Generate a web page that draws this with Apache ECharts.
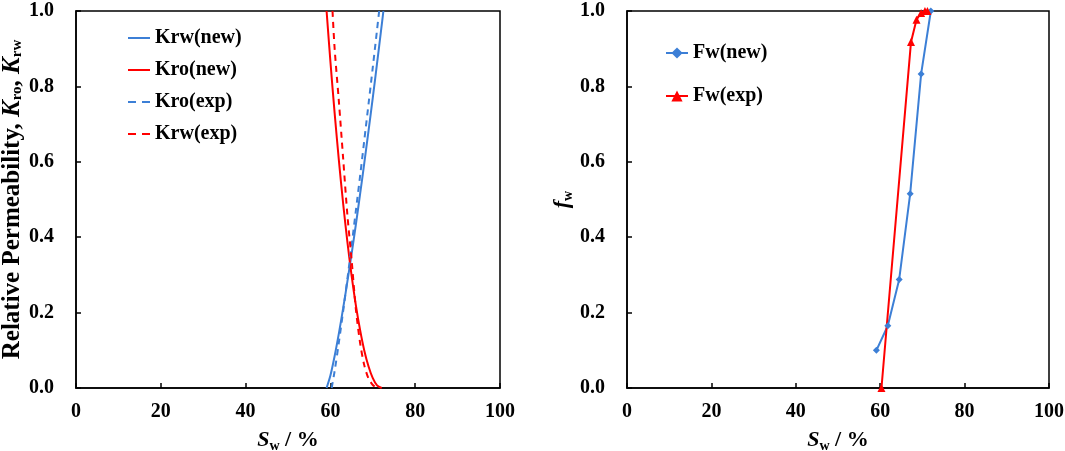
<!DOCTYPE html>
<html>
<head>
<meta charset="utf-8">
<script src="https://cdn.jsdelivr.net/npm/echarts@6/dist/echarts.min.js"></script>
<style>
  html, body { margin: 0; padding: 0; background: #fff; }
  #main { width: 1065px; height: 451px; }
</style>
</head>
<body>
<div id="main"></div>
<script>
// left panel: relative permeability curves (Sw in %, K value)
var swKrwNew = [59.1, 60, 61, 62, 63, 64, 65, 66, 67, 68, 69, 70, 71, 72, 72.5];
var krwNew   = [0, 0.033, 0.085, 0.145, 0.211, 0.282, 0.356, 0.433, 0.514, 0.597, 0.683, 0.770, 0.861, 0.953, 1.0];

var swKroNew = [59.1, 60, 61, 62, 63, 64, 65, 66, 67, 68, 69, 70, 71, 72.1];
var kroNew   = [1.0, 0.866, 0.729, 0.604, 0.490, 0.388, 0.298, 0.220, 0.154, 0.099, 0.057, 0.026, 0.007, 0];

var swKroExp = [60.3, 61, 62, 63, 64, 65, 66, 67, 68, 69, 70, 71, 71.5];
var kroExp   = [0, 0.045, 0.121, 0.203, 0.289, 0.378, 0.470, 0.562, 0.658, 0.754, 0.851, 0.950, 1.0];

var swKrwExp = [60.5, 61, 62, 63, 64, 65, 66, 67, 68, 69, 70, 70.9];
var krwExp   = [1.0, 0.90, 0.76, 0.61, 0.46, 0.34, 0.21, 0.12, 0.06, 0.025, 0.008, 0];

// right panel: fractional flow
var swFwNew = [59.1, 61.8, 64.5, 67.1, 69.7, 72.0];
var fwNew   = [0.10, 0.165, 0.288, 0.515, 0.833, 1.0];

var swFwExp = [60.3, 67.3, 68.6, 69.7, 70.6, 71.2];
var fwExp   = [0, 0.918, 0.977, 0.995, 1.0, 1.0];

var xTicks = [0, 20, 40, 60, 80, 100];
var yTicks = [0, 0.2, 0.4, 0.6, 0.8, 1.0];

var BLUE = '#3c7fd6';
var RED = '#ff0000';
var FONT = '"Liberation Serif", "Times New Roman", serif';

// legend icons (line only, no marker)
var ICON_SOLID = 'path://M0,0H22V2H0Z';
var ICON_DASH = 'path://M0,0H8V2H0Z M14,0H22V2H14Z';

function zip(xs, ys) {
    var out = [];
    for (var i = 0; i < xs.length; i++) {
        out.push([xs[i], ys[i]]);
    }
    return out;
}

function makeRich(size, subSize, lh) {
    return {
        b: {fontFamily: FONT, fontWeight: 'bold', fontSize: size, color: '#000', lineHeight: lh},
        i: {fontFamily: FONT, fontWeight: 'bold', fontStyle: 'italic', fontSize: size, color: '#000', lineHeight: lh},
        s: {fontFamily: FONT, fontWeight: 'bold', fontSize: subSize, color: '#000', lineHeight: subSize, verticalAlign: 'bottom'}
    };
}

function xAxisOpt(idx) {
    return {
        gridIndex: idx,
        type: 'value',
        min: 0, max: 100, interval: 20,
        name: '{i|S}{s|w}{b| / %}',
        nameLocation: 'middle',
        nameGap: 39,
        nameTextStyle: {rich: makeRich(22, 14, 26)},
        axisLine: {lineStyle: {color: '#000', width: 1.5}},
        axisTick: {inside: true, length: 5, lineStyle: {color: '#000', width: 1.5}},
        axisLabel: {
            margin: 14, color: '#000', fontFamily: FONT, fontWeight: 'bold', fontSize: 20,
            formatter: function (v) { return xTicks.indexOf(v) >= 0 ? String(v) : ''; }
        },
        splitLine: {show: false}
    };
}

function yAxisOpt(idx, name, gap, rich) {
    return {
        gridIndex: idx,
        type: 'value',
        min: 0, max: 1, interval: 0.2,
        name: name,
        nameLocation: 'middle',
        nameRotate: 90,
        nameGap: gap,
        nameTextStyle: {rich: rich},
        axisLine: {lineStyle: {color: '#000', width: 1.5}},
        axisTick: {inside: true, length: 5, lineStyle: {color: '#000', width: 1.5}},
        axisLabel: {
            margin: 22, color: '#000', fontFamily: FONT, fontWeight: 'bold', fontSize: 20,
            formatter: function (v) { return v.toFixed(1); }
        },
        splitLine: {show: false}
    };
}

var chart = echarts.init(document.getElementById('main'));
var option = {
    backgroundColor: '#fff',
    animation: false,
    grid: [
        {left: 76, right: 565, top: 11, bottom: 63, outerBoundsMode: 'none',
         show: true, borderColor: '#000', borderWidth: 1.5},
        {left: 627, right: 16, top: 11, bottom: 63, outerBoundsMode: 'none',
         show: true, borderColor: '#000', borderWidth: 1.5}
    ],
    xAxis: [xAxisOpt(0), xAxisOpt(1)],
    yAxis: [
        yAxisOpt(0, '{b|Relative Permeability, }{i|K}{s|ro}{b|, }{i|K}{s|rw}', 50, makeRich(25, 15, 26)),
        yAxisOpt(1, '{i|f}{s|w}', 52, makeRich(22, 14, 26))
    ],
    legend: [
        {
            data: [
                {name: 'Krw(new)', icon: ICON_SOLID},
                {name: 'Kro(new)', icon: ICON_SOLID},
                {name: 'Kro(exp)', icon: ICON_DASH},
                {name: 'Krw(exp)', icon: ICON_DASH}
            ],
            orient: 'vertical',
            left: 123, top: 22,
            itemWidth: 22, itemHeight: 2, itemGap: 10,
            textStyle: {fontFamily: FONT, fontWeight: 'bold', fontSize: 20, color: '#000', lineHeight: 22}
        },
        {
            data: ['Fw(new)', 'Fw(exp)'],
            orient: 'vertical',
            left: 660, top: 37,
            itemWidth: 22, itemHeight: 14, itemGap: 21,
            textStyle: {fontFamily: FONT, fontWeight: 'bold', fontSize: 20, color: '#000', lineHeight: 22}
        }
    ],
    series: [
        {
            name: 'Krw(new)', type: 'line', xAxisIndex: 0, yAxisIndex: 0,
            data: zip(swKrwNew, krwNew), symbol: 'none', smooth: 0.3,
            itemStyle: {color: BLUE}, lineStyle: {color: BLUE, width: 2}
        },
        {
            name: 'Kro(new)', type: 'line', xAxisIndex: 0, yAxisIndex: 0,
            data: zip(swKroNew, kroNew), symbol: 'none', smooth: 0.3,
            itemStyle: {color: RED}, lineStyle: {color: RED, width: 2}
        },
        {
            name: 'Kro(exp)', type: 'line', xAxisIndex: 0, yAxisIndex: 0,
            data: zip(swKroExp, kroExp), symbol: 'none', smooth: 0.3,
            itemStyle: {color: BLUE}, lineStyle: {color: BLUE, width: 2, type: [6, 5]}
        },
        {
            name: 'Krw(exp)', type: 'line', xAxisIndex: 0, yAxisIndex: 0,
            data: zip(swKrwExp, krwExp), symbol: 'none', smooth: 0.3,
            itemStyle: {color: RED}, lineStyle: {color: RED, width: 2, type: [6, 5]}
        },
        {
            name: 'Fw(new)', type: 'line', xAxisIndex: 1, yAxisIndex: 1,
            data: zip(swFwNew, fwNew), symbol: 'diamond', symbolSize: 7,
            itemStyle: {color: BLUE}, lineStyle: {color: BLUE, width: 2}
        },
        {
            name: 'Fw(exp)', type: 'line', xAxisIndex: 1, yAxisIndex: 1,
            data: zip(swFwExp, fwExp), symbol: 'triangle', symbolSize: 8,
            itemStyle: {color: RED}, lineStyle: {color: RED, width: 2}
        }
    ]
};
chart.setOption(option);
</script>
</body>
</html>
